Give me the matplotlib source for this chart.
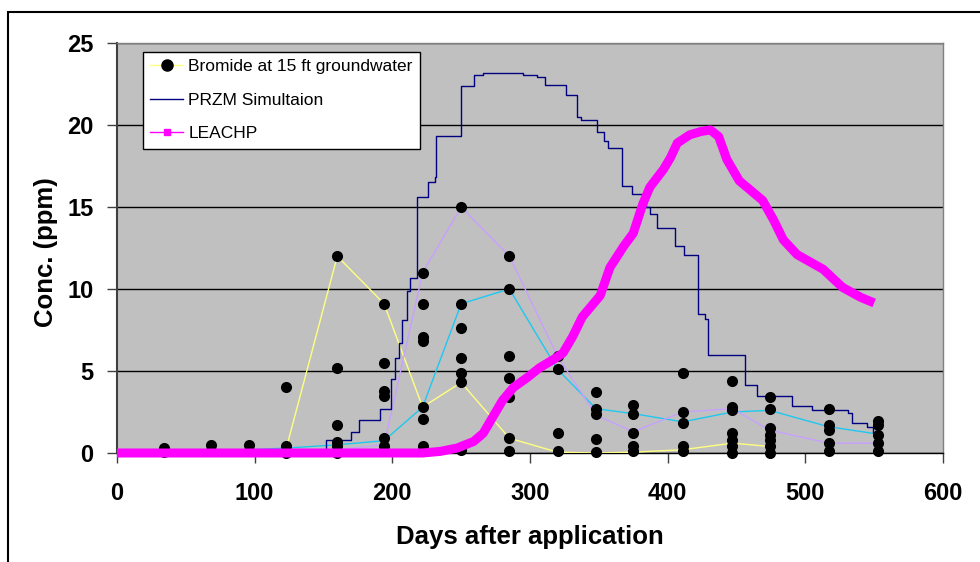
import matplotlib
matplotlib.use("Agg")
import matplotlib.pyplot as plt
from matplotlib.lines import Line2D
from matplotlib.patches import Rectangle

plt.rcParams["font.family"] = ["Liberation Sans", "DejaVu Sans"]

# Observed bromide at 15 ft groundwater: sampling days and concentrations per sampling event
sample_days = [34, 68, 96, 123, 160, 194, 222, 250, 285, 320, 348, 375, 411, 447, 474, 517, 553]
bromide_obs = [
    [0.3, 0.05],
    [0.5, 0.1],
    [0.5, 0.1],
    [4.0, 0.4, 0.0],
    [12.0, 5.2, 1.7, 0.7, 0.4, 0.0],
    [9.1, 5.5, 3.8, 3.5, 0.9, 0.4],
    [11.0, 9.1, 7.1, 6.8, 2.8, 2.1, 0.4],
    [15.0, 9.1, 7.6, 5.8, 4.9, 4.3, 0.2],
    [12.0, 10.0, 5.9, 4.6, 3.4, 0.9, 0.1],
    [5.9, 5.1, 1.2, 0.1],
    [3.7, 2.7, 2.4, 0.85, 0.05],
    [2.9, 2.4, 1.2, 0.4, 0.1],
    [4.9, 2.5, 1.8, 0.4, 0.1],
    [4.4, 2.8, 2.6, 1.2, 0.8, 0.4, 0.0],
    [3.4, 2.7, 1.5, 1.1, 0.8, 0.4, 0.0],
    [2.7, 1.7, 1.4, 0.6, 0.1],
    [1.95, 1.7, 1.1, 0.6, 0.1],
]

# Individual well traces connecting the sampling events
well_a_days = [0, 34, 68, 96, 123, 160, 194, 222, 250, 285, 320, 348, 375, 411, 447, 474]
well_a_conc = [0, 0, 0, 0, 0.3, 12.0, 9.1, 2.8, 4.3, 0.9, 0.05, 0, 0.05, 0.2, 0.6, 0.4]

well_b_days = [34, 68, 96, 123, 160, 194, 222, 250, 285, 320, 348, 375, 411, 447, 474, 517, 553]
well_b_conc = [0, 0.1, 0.2, 0.3, 0.5, 0.75, 2.8, 9.1, 10.0, 5.1, 2.7, 2.4, 1.9, 2.5, 2.6, 1.6, 1.15]

well_c_days = [123, 160, 194, 222, 250, 285, 320, 348, 375, 411, 447, 474, 517, 553]
well_c_conc = [0, 0.2, 0.5, 11.0, 15.0, 12.0, 5.9, 2.3, 1.3, 2.5, 2.7, 1.4, 0.6, 0.6]

# PRZM simulation (stepwise daily output, value holds until next day listed)
przm_days = [0, 152, 170, 176, 191, 199, 202, 205, 207, 211, 213, 218, 226, 231, 232,
             250, 259, 266, 295, 305, 311, 326, 334, 337, 349, 354, 357, 367, 374,
             384, 387, 392, 405, 412, 422, 427, 429, 456, 465, 490, 505, 531, 534,
             545, 549, 551]
przm_conc = [0, 0.8, 1.3, 2.0, 2.7, 4.5, 5.8, 6.7, 8.1, 9.9, 10.7, 15.6, 16.5, 16.8, 19.3,
             22.4, 23.05, 23.2, 23.05, 22.9, 22.45, 21.8, 20.5, 20.3, 19.6, 19.0, 18.6, 16.3, 15.8,
             15.0, 14.6, 13.7, 12.6, 12.1, 8.5, 8.2, 6.0, 4.15, 3.5, 2.85, 2.65, 2.45, 1.85,
             1.6, 1.2, 1.2]

# LEACHP simulation
leachp_days = [0, 100, 200, 222, 235, 247, 259, 266, 273, 280, 288, 298, 307, 317, 324,
               331, 338, 344, 351, 358, 368, 375, 382, 387, 397, 402, 407, 416, 424, 431,
               437, 443, 452, 469, 477, 484, 494, 513, 527, 540, 550]
leachp_conc = [0, 0, 0, 0, 0.1, 0.3, 0.7, 1.2, 2.2, 3.2, 4.0, 4.6, 5.2, 5.7, 6.1,
               7.1, 8.3, 8.9, 9.6, 11.3, 12.6, 13.4, 15.2, 16.2, 17.3, 18.0, 18.9, 19.4, 19.6, 19.7,
               19.3, 17.9, 16.6, 15.4, 14.2, 13.0, 12.1, 11.2, 10.1, 9.5, 9.15]

x_ticks = [0, 100, 200, 300, 400, 500, 600]
y_ticks = [0, 5, 10, 15, 20, 25]

W, H = 980, 562
fig = plt.figure(figsize=(W / 100, H / 100), dpi=100)
fig.patch.set_facecolor("white")

# outer chart frame
fig.patches.append(Rectangle((7.5 / W, -0.5), 2.0, 1 - 11.5 / H + 0.5,
                             transform=fig.transFigure, fill=False,
                             edgecolor="black", linewidth=1.5))

ax = fig.add_axes([117 / W, 1 - 453 / H, (943 - 117) / W, (453 - 43) / H])
ax.set_facecolor("#C0C0C0")
ax.set_xlim(0, 600)
ax.set_ylim(0, 25)
ax.set_xticks(x_ticks)
ax.set_yticks(y_ticks)
ax.yaxis.grid(True, color="black", linewidth=1.0)
ax.set_axisbelow(True)

ax.plot(well_a_days, well_a_conc, color="#FFFF80", lw=1.0, zorder=3)
ax.plot(well_b_days, well_b_conc, color="#1EC8F0", lw=1.0, zorder=3)
ax.plot(well_c_days, well_c_conc, color="#C8A0FF", lw=1.0, zorder=3)
ax.plot(przm_days, przm_conc, color="#000080", lw=1.0, drawstyle="steps-post", zorder=4)

obs_x = [d for d, vals in zip(sample_days, bromide_obs) for _ in vals]
obs_y = [v for vals in bromide_obs for v in vals]
ax.scatter(obs_x, obs_y, s=64, color="black", zorder=5, clip_on=False, linewidths=0)

ax.plot(leachp_days, leachp_conc, color="#FF00FF", lw=6.5, solid_capstyle="butt",
        solid_joinstyle="round", zorder=6, clip_on=False)

for side in ("top", "right"):
    ax.spines[side].set_color("#808080")
    ax.spines[side].set_linewidth(1.0)
ax.spines["left"].set_color("#404040")
ax.spines["left"].set_linewidth(1.5)
ax.spines["bottom"].set_color("black")
ax.spines["bottom"].set_linewidth(1.0)

ax.tick_params(axis="both", direction="out", length=7, width=1.0, color="#404040",
               labelsize=17)
ax.tick_params(axis="x", pad=14)
ax.tick_params(axis="y", pad=10)
for lab in ax.get_xticklabels() + ax.get_yticklabels():
    lab.set_fontweight("bold")

ax.set_xlabel("Days after application", fontsize=18.5, fontweight="bold")
ax.xaxis.set_label_coords(0.5, -0.175)
ax.xaxis.label.set_va("top")
ax.set_ylabel("Conc. (ppm)", fontsize=18.5, fontweight="bold")
ax.yaxis.set_label_coords(-0.071, 0.49)

handles = [
    Line2D([], [], color="#FFFF80", lw=1.0, marker="o", markersize=8,
           markerfacecolor="black", markeredgecolor="black"),
    Line2D([], [], color="#000080", lw=1.0),
    Line2D([], [], color="#FF00FF", lw=1.0, marker="s", markersize=5,
           markerfacecolor="#FF00FF", markeredgecolor="#FF00FF"),
]
labels = ["Bromide at 15 ft groundwater", "PRZM Simultaion", "LEACHP"]
leg = fig.legend(handles, labels, loc="upper left",
                 bbox_to_anchor=(143 / W, 1 - 52 / H), borderaxespad=0,
                 fontsize=12.5, frameon=True, fancybox=False, shadow=False,
                 handlelength=1.9, handletextpad=0.3, borderpad=0.42,
                 labelspacing=1.05)
leg.get_frame().set_edgecolor("black")
leg.get_frame().set_linewidth(1.0)
leg.get_frame().set_facecolor("white")
leg.get_frame().set_alpha(1.0)
leg.set_zorder(10)

fig.savefig("out.png", dpi=100)
